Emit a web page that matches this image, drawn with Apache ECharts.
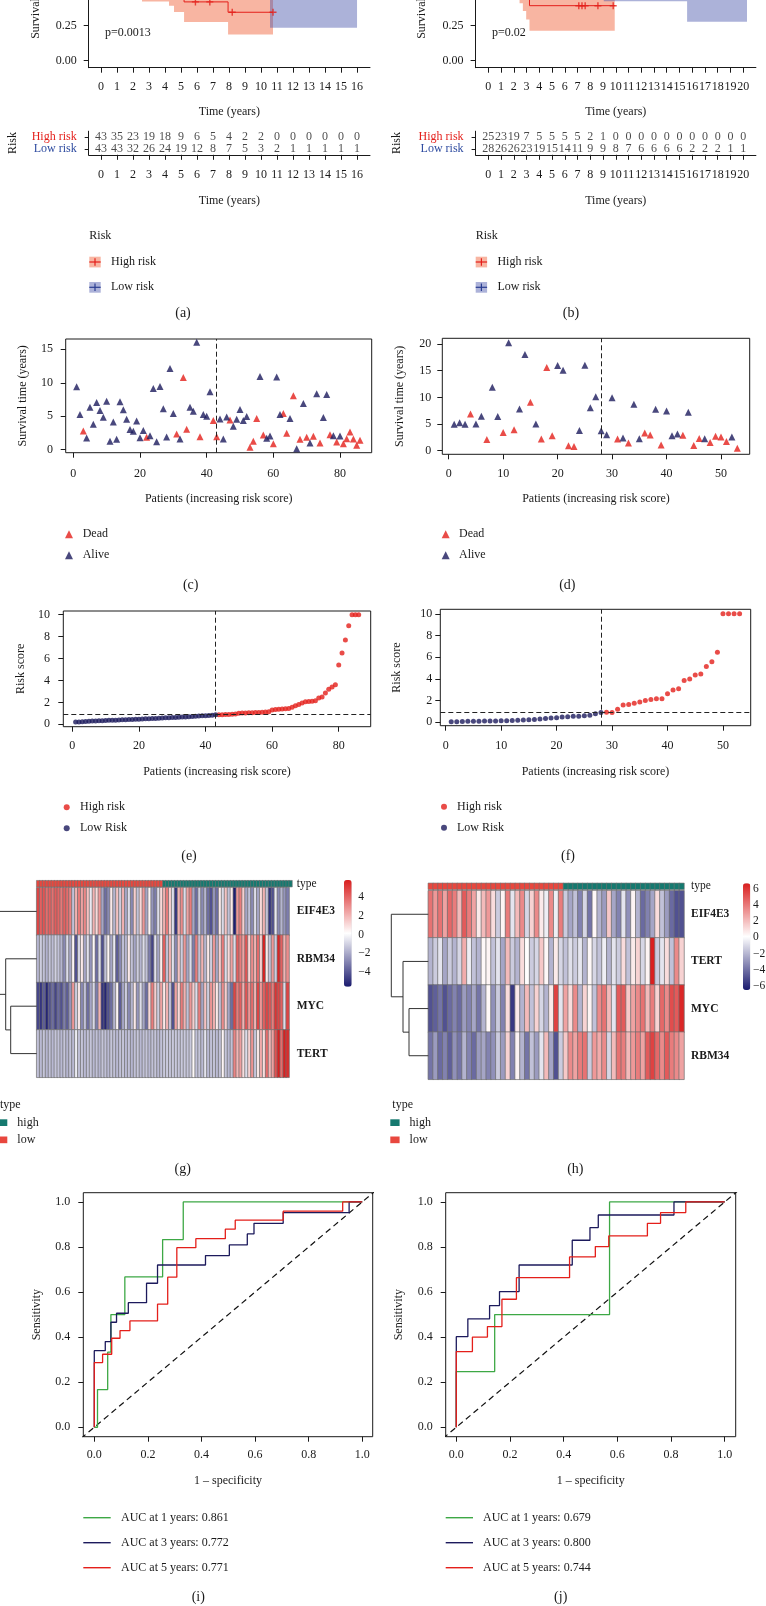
<!DOCTYPE html>
<html>
<head>
<meta charset="utf-8">
<title>Risk model figure</title>
<script src="https://cdn.jsdelivr.net/npm/echarts@6.0.0/dist/echarts.min.js"></script>
<style>
html,body{margin:0;padding:0;background:#ffffff;}
#chart{width:766px;height:1606px;}
</style>
</head>
<body>
<div id="chart"></div>
<script>
// ======================= DATA =======================
// (a) Kaplan-Meier, training cohort
const kmA_ticks = [0,1,2,3,4,5,6,7,8,9,10,11,12,13,14,15,16];
const kmA_highTime  = [0, 0.6, 1.2, 1.8, 2.56, 4.25, 4.56, 5.19, 7.94, 10.75];
const kmA_highSurv  = [1, 0.93, 0.84, 0.75, 0.62, 0.55, 0.49, 0.42, 0.346, 0.346];
const kmA_highLower = [1, 0.82, 0.70, 0.60, 0.422, 0.393, 0.348, 0.276, 0.188, 0.188];
const kmA_highCensTime = [5.9, 6.8, 8.2, 10.75];
const kmA_highCensSurv = [0.42, 0.42, 0.346, 0.346];
const kmA_lowTime  = [0, 1.5, 2.5, 4, 5.5, 7, 9, 10.56, 16];
const kmA_lowSurv  = [1, 0.97, 0.90, 0.84, 0.78, 0.72, 0.68, 0.55, 0.55];
const kmA_lowLower = [1, 0.90, 0.80, 0.72, 0.65, 0.58, 0.52, 0.236, 0.236];
const riskA_high = [43,35,23,19,18,9,6,5,4,2,2,0,0,0,0,0,0];
const riskA_low  = [43,43,32,26,24,19,12,8,7,5,3,2,1,1,1,1,1];
const pA = 'p=0.0013';

// (b) Kaplan-Meier, validation cohort
const kmB_ticks = [0,1,2,3,4,5,6,7,8,9,10,11,12,13,14,15,16,17,18,19,20];
const kmB_highTime  = [0, 0.5, 1.2, 2.0, 2.45, 2.71, 2.97, 3.23, 9.92];
const kmB_highSurv  = [1, 0.95, 0.88, 0.74, 0.64, 0.56, 0.48, 0.393, 0.393];
const kmB_highLower = [1, 0.84, 0.72, 0.55, 0.41, 0.355, 0.295, 0.214, 0.214];
const kmB_highCensTime = [7.1, 7.35, 7.6, 8.6, 9.8];
const kmB_highCensSurv = [0.393, 0.393, 0.393, 0.393, 0.393];
const kmB_lowTime  = [0, 1, 2.5, 4, 5.5, 7, 8.2, 9.06, 15.6, 20.3];
const kmB_lowSurv  = [1, 0.96, 0.90, 0.85, 0.80, 0.76, 0.72, 0.66, 0.55, 0.55];
const kmB_lowLower = [1, 0.88, 0.78, 0.70, 0.62, 0.56, 0.50, 0.425, 0.279, 0.279];
const riskB_high = [25,23,19,7,5,5,5,5,2,1,0,0,0,0,0,0,0,0,0,0,0];
const riskB_low  = [28,26,26,23,19,15,14,11,9,9,8,7,6,6,6,6,2,2,2,1,1];
const pB = 'p=0.02';

const survTicks = [0, 0.25, 0.5, 0.75, 1];

// (c) survival status, training cohort (patients ordered by risk score)
const cSurvTime = [9.4,5.25,2.8,1.75,6.35,3.8,7.05,5.85,4.85,7.25,
  1.25,4.15,1.55,7.15,5.95,4.55,3.0,2.75,4.3,1.8,
  2.85,1.85,2.1,9.15,1.2,9.45,6.1,1.9,12.15,5.4,
  2.35,1.6,10.8,3.05,6.35,5.75,16.05,1.95,5.25,5.0,
  8.65,4.35,1.95,4.6,1.6,4.9,4.45,3.5,4.55,6.0,
  4.35,4.95,0.35,1.25,4.65,10.95,2.2,1.7,2.05,0.9,
  10.85,5.25,5.4,2.45,4.65,8.05,0.15,1.55,6.9,1.85,
  1.0,2.0,8.35,1.0,4.8,8.25,2.25,2.1,1.15,2.05,
  0.9,1.65,2.65,1.6,0.65,1.4];
const cDead = [0,0,1,0,0,0,0,0,0,0,
  0,0,0,0,0,0,0,0,0,0,
  0,1,0,0,0,0,0,0,0,0,
  1,0,1,1,0,0,0,1,0,0,
  0,1,1,0,0,0,1,0,0,0,
  0,0,1,1,1,0,1,0,0,1,
  0,0,1,1,0,1,0,1,0,1,
  0,1,0,1,0,0,1,0,1,0,
  1,1,1,1,1,1];
const cCut = 43;

// (d) survival status, validation cohort
const dSurvTime = [4.95,5.25,4.95,6.9,5.0,6.45,2.1,11.9,6.4,3.4,
  20.25,3.95,7.8,18.05,9.1,5.0,2.2,15.6,2.8,15.95,
  15.1,0.95,0.8,3.8,16.0,8.05,10.1,3.75,3.0,9.95,
  2.2,2.4,1.45,8.7,2.25,3.3,2.95,7.75,1.05,7.45,
  2.8,3.15,2.9,7.2,1.0,2.3,2.25,1.55,2.7,2.55,
  1.75,2.55,0.45];
const dDead = [0,0,0,1,0,0,1,0,0,1,
  0,1,0,0,1,0,1,1,1,0,
  0,1,1,0,0,0,0,0,0,0,
  1,0,1,0,0,1,1,0,1,0,
  0,0,1,0,1,1,0,1,1,1,
  1,0,1];
const dCut = 28;

// (e) risk score, training cohort
const eLowScore = [0.20,0.22,0.24,0.26,0.28,0.30,0.31,0.32,0.33,0.35,0.36,0.37,0.38,0.40,0.41,0.42,0.43,0.44,0.46,0.47,
  0.48,0.50,0.51,0.52,0.53,0.55,0.57,0.59,0.60,0.62,0.63,0.64,0.66,0.67,0.69,0.71,0.73,0.75,0.77,0.79,0.81,0.83,0.86];
const eHighScore = [0.88,0.88,0.89,0.90,0.91,0.93,1.0,1.02,1.04,1.05,1.06,1.07,1.08,1.10,1.12,1.15,1.30,1.35,1.38,1.40,
  1.42,1.43,1.55,1.70,1.80,1.95,2.05,2.07,2.10,2.15,2.40,2.50,2.85,3.20,3.40,3.60,5.40,6.50,7.70,9.00,10,10,10];
const eThreshold = 0.88;

// (f) risk score, validation cohort
const fLowScore = [0.05,0.06,0.08,0.09,0.10,0.10,0.12,0.12,0.13,0.14,0.15,0.17,0.20,0.22,0.23,0.25,0.30,0.35,0.40,0.42,
  0.50,0.52,0.55,0.57,0.60,0.65,0.80,0.90];
const fHighScore = [0.92,0.90,1.20,1.60,1.65,1.75,1.87,2.00,2.10,2.18,2.18,2.64,2.97,3.10,3.85,4.00,4.35,4.45,5.15,5.58,
  6.45,10,10,10,10];
const fThreshold = 0.92;

// (g) heatmap, training cohort (86 samples)
const gGenes = ['EIF4E3','RBM34','MYC','TERT'];
const gType = [0,0,0,0,0,0,0,0,0,0,0,0,0,0,0,0,0,0,0,0,0,0,0,0,0,0,0,0,0,0,0,0,0,0,0,0,0,0,0,0,0,0,0,
  1,1,1,1,1,1,1,1,1,1,1,1,1,1,1,1,1,1,1,1,1,1,1,1,1,1,1,1,1,1,1,1,1,1,1,1,1,1,1,1,1,1,1,1];
const gEIF4E3 = [4.9,4.2,4.5,3.9,4.2,3.8,4.3,4.1,3.6,4.2,3.9,3.4,
  -1.4,2.1,3.5,2.5,3.2,1.7,-0.4,2.1,1.1,2.8,
  -2.1,-3.5,-2.8,0.7,-1.7,1.7,-1.1,2.1,-2.1,-0.7,
  -2.8,1.4,-1.4,1.1,2.8,-2.1,0.4,-2.5,-3.1,-0.7,1.1,
  2.1,3.5,1.4,-0.7,-4.9,2.1,3.1,-0.7,2.5,3.5,
  -2.1,-3.5,-1.1,-2.8,-1.7,-3.5,-4.2,-2.5,-3.5,0.7,
  -0.8,1.7,-1.4,0.7,-5.5,2.8,3.5,1.4,-2.1,-1.4,
  -2.8,-0.7,-2.1,1.1,2.1,-1.4,-4.9,-4.2,-0.4,-2.8,
  -1.7,-2.5,-3.1];
const gRBM34 = [-1.7,-1.1,-1.4,-1.8,-1.3,-1.5,-1.0,-1.4,-1.7,
  -2.8,-0.7,-2.1,0.4,-4.2,-0.8,0.7,-2.1,-0.6,-2.5,
  0.3,-3.5,-0.7,-4.2,-1.4,0.4,-2.1,-0.4,-3.9,-2.8,
  -1.4,-1.7,0.7,-1.4,-2.1,-1.1,-1.7,-0.7,-1.4,-3.1,
  -4.5,-0.6,-2.1,0.6,4.2,-1.4,2.1,-0.6,-2.8,1.7,
  -1.1,2.8,-2.1,-0.7,-3.1,3.5,-1.4,2.1,-1.7,0.7,
  -1.1,2.8,-2.1,1.4,3.5,-0.7,1.1,2.5,-0.7,4.2,
  3.5,2.5,4.5,1.1,3.1,2.1,3.9,1.4,5.8,0.7,
  -1.4,2.8,-1.1,5.7,4.2,2.1,3.1];
const gMYC = [-4.5,-4.9,-3.9,-5.3,-4.2,-3.5,-4.5,-3.6,-4.2,-3.1,-3.9,-2.5,
  2.8,-1.1,0.7,-2.8,-1.4,-3.5,-2.1,-0.8,-3.1,2.1,
  -4.9,-5.3,-4.2,-3.5,-1.7,0.4,-3.9,-2.1,-1.1,-2.8,
  -1.7,0.7,-2.5,-0.7,-2.1,-3.5,1.1,3.5,1.4,-1.1,
  2.5,0.7,2.1,-1.4,-4.2,2.5,1.1,3.5,2.1,-1.4,
  2.8,1.4,-0.7,3.5,-2.1,1.7,-1.1,2.8,2.1,0.7,
  -1.4,3.1,1.4,-2.1,-3.5,4.9,3.5,4.2,2.1,4.5,
  2.8,3.9,2.1,4.9,2.8,4.2,4.9,4.5,3.5,5.3,
  4.9,4.2,-0.7,4.9];
const gTERT = [-1.4,-1.6,-1.3,-1.7,-1.4,-1.6,-1.3,-1.4,-1.6,-1.3,-1.7,-1.4,-1.6,
  -0.3,
  -1.4,-1.3,-1.6,-1.4,-1.3,-1.6,-1.4,-1.7,-1.3,-1.4,-1.6,-1.3,-1.4,-1.6,-1.4,-1.3,-1.6,-1.4,-1.7,-1.4,-1.3,-1.6,-1.4,-1.3,-1.6,-1.4,-1.3,-1.6,-1.4,
  -1.2,-1.2,-1.3,-1.2,-1.2,-1.3,-1.2,-1.2,-1.3,-1.2,
  0.3,
  -1.4,-1.3,-1.6,
  -0.5,
  -1.6,-1.4,-1.3,-1.6,-1.4,
  0.4,
  -1.3,-1.6,-1.4,
  3.3,2.0,2.6,1.0,-0.7,1.3,2.9,-1.3,0.7,2.3,1.0,3.9,2.0,2.6,4.6,5.8,3.9,5.8,5.5];
const gScaleMin = -5.57, gScaleMax = 5.86;
const gScaleTicks = [-4,-2,0,2,4];
const gDendroMerge = [[-3,-4],[-2,1],[-1,2]];
const gDendroHeight = [2.6, 3.1, 4.2];

// (h) heatmap, validation cohort (53 samples)
const hGenes = ['EIF4E3','TERT','MYC','RBM34'];
const hType = [0,0,0,0,0,0,0,0,0,0,0,0,0,0,0,0,0,0,0,0,0,0,0,0,0,0,0,0,
  1,1,1,1,1,1,1,1,1,1,1,1,1,1,1,1,1,1,1,1,1,1,1,1,1];
const hEIF4E3 = [4.2,3.1,4.2,2.8,4.5,3.9,2.1,4.9,3.9,2.8, 0.7,2.1,3.1,1.1,-1.4,0.4,3.9,-0.7,2.1,3.5,
  -1.1,1.4,3.5,0.7,-0.4,3.5,-0.4,3.9,-1.4,-2.5, -1.7,-3.5,-1.1,-3.9,0.3,-2.1,-2.8,1.7,-2.5,-3.5,
  -0.7,-3.1,0.4,-2.1,-4.2,-3.5,-2.5,1.1,-1.7,-2.8, -4.2,-4.9,-4.9];
const hTERT = [-2.1,-1.4,-0.7,-2.5,-1.4,-2.1,-1.1,2.5,-0.4,-1.7, -2.1,0.3,0.4,-1.7,-0.7,-2.5,2.1,-1.4,-2.1,1.1,
  0.1,-1.4,-1.1,1.7,0.3,-2.1,0.7,-1.1,-1.7,-0.8, -1.4,-0.6,-2.1,0.3,-1.1,-1.7,-0.4,-2.1,-0.7,-1.4,
  1.1,-1.7,0.7,1.4,-1.1,0.4,6.6,-1.4,-0.7,1.1, -1.7,3.5,1.4];
const hMYC = [-4.9,-4.5,-3.9,-4.9,-4.2,-3.5,-4.2,-2.8,-3.5,-2.5, -3.9,-2.1,0.3,-3.1,-1.4,-3.5,1.1,-5.6,0.7,-2.1,
  2.1,-1.7,1.4,-1.1,-2.1,0.7,5.6,-0.7,2.8,1.1, 3.5,-2.1,1.4,0.4,-1.7,3.5,4.2,2.1,-0.7,4.9,
  4.9,1.7,2.8,3.5,4.2,2.1,3.9,1.4,4.5,3.5, 5.3,4.9,6.4];
const hRBM34 = [-3.9,-2.8,-4.2,-3.5,-4.5,-3.1,-3.9,-2.1,-3.5,-4.2, -2.8,-2.5,-3.5,-3.1,-1.4,-2.8,1.4,-3.5,0.4,-2.1,
  -3.9,-1.7,-2.8,-0.7,2.1,-2.5,-4.9,-1.4,1.7,3.5, 2.8,3.9,4.2,-1.4,3.1,2.5,3.5,-1.1,2.1,4.2,
  3.9,2.1,3.1,3.9,2.8,4.9,5.6,4.5,3.5,4.9, 3.9,3.5,2.8];
const hScaleMin = -6.49, hScaleMax = 6.66;
const hScaleTicks = [-6,-4,-2,0,2,4,6];
const hDendroMerge = [[-3,-4],[-2,1],[-1,2]];
const hDendroHeight = [1.93, 2.53, 3.7];

// (i) time-dependent ROC, training cohort
const rocTicks = [0, 0.2, 0.4, 0.6, 0.8, 1.0];
const iNames = ['AUC at 1 years: 0.861', 'AUC at 3 years: 0.772', 'AUC at 5 years: 0.771'];
const i1Fpr = [0,0.012,0.012,0.05,0.05,0.062,0.062,0.114,0.114,0.255,0.255,0.332,0.332,1];
const i1Tpr = [0,0,0.167,0.167,0.333,0.333,0.5,0.5,0.667,0.667,0.833,0.833,1,1];
const i3Fpr = [0,0,0.041,0.041,0.062,0.062,0.083,0.083,0.127,0.127,0.195,0.195,0.236,0.236,0.415,0.415,0.504,0.504,0.571,0.571,0.596,0.596,0.705,0.705,0.951,0.951,1];
const i3Tpr = [0,0.34,0.34,0.38,0.38,0.466,0.466,0.506,0.506,0.553,0.553,0.639,0.639,0.72,0.72,0.762,0.762,0.809,0.809,0.858,0.858,0.905,0.905,0.953,0.953,1,1];
const i5Fpr = [0,0,0.031,0.031,0.065,0.065,0.096,0.096,0.133,0.133,0.236,0.236,0.274,0.274,0.308,0.308,0.379,0.379,0.489,0.489,0.526,0.526,0.705,0.705,0.927,0.927,1];
const i5Tpr = [0,0.287,0.287,0.324,0.324,0.395,0.395,0.429,0.429,0.472,0.472,0.546,0.546,0.666,0.666,0.797,0.797,0.837,0.837,0.879,0.879,0.919,0.919,0.959,0.959,1,1];

// (j) time-dependent ROC, validation cohort
const jNames = ['AUC at 1 years: 0.679', 'AUC at 3 years: 0.800', 'AUC at 5 years: 0.744'];
const j1Fpr = [0,0,0.143,0.143,0.571,0.571,1];
const j1Tpr = [0,0.247,0.247,0.5,0.5,1,1];
const j3Fpr = [0,0,0.043,0.043,0.124,0.124,0.161,0.161,0.234,0.234,0.432,0.432,0.498,0.498,0.529,0.529,0.811,0.811,1];
const j3Tpr = [0,0.402,0.402,0.481,0.481,0.54,0.54,0.602,0.602,0.72,0.72,0.83,0.83,0.886,0.886,0.942,0.942,1,1];
const j5Fpr = [0,0,0.06,0.06,0.116,0.116,0.17,0.17,0.224,0.224,0.422,0.422,0.518,0.518,0.568,0.568,0.712,0.712,0.761,0.761,0.855,0.855,1];
const j5Tpr = [0,0.336,0.336,0.4,0.4,0.447,0.447,0.568,0.568,0.664,0.664,0.756,0.756,0.802,0.802,0.849,0.849,0.905,0.905,0.953,0.953,1,1];
const rocChance = [-0.05, 1.05];

// ======================= STYLE =======================
const FONT = "'Liberation Serif', serif";
const C_TEXT = '#1a1a1a';
const C_RED = '#E41F1A';
const C_NAVY = '#1C1A5C';
const C_HIGH_FILL = 'rgba(242,108,70,0.5)';
const C_LOW_FILL = 'rgba(70,85,170,0.45)';
const C_LOW_LINE = '#2A3D91';
const C_LOW_TEXT = '#2E4BA0';
const C_TYPE_LOW = '#E8473E';
const C_TYPE_HIGH = '#15796F';
const C_GREEN = '#3DA845';
const HEAT_COLORS = ['#1A1A6E', '#FFFFFF', '#D91E1E'];

const pair = (xs, ys) => xs.map((x, i) => [x, ys[i]]);
const lbl = (extra) => Object.assign({fontFamily: FONT, fontSize: 12, color: C_TEXT, hideOverlap: false}, extra || {});
const nameStyle = {fontFamily: FONT, fontSize: 12, color: C_TEXT};

const grids = [], xAxes = [], yAxes = [], series = [], visualMaps = [], graphics = [];
function addGrid(g) {
  grids.push(Object.assign({show: false, containLabel: false, outerBoundsMode: 'none'}, g));
  return grids.length - 1;
}
function valAxis(gi, min, max, ticks, opts) {
  const o = opts || {};
  const ax = {
    type: 'value', gridIndex: gi, min: min, max: max,
    axisLine: {show: !!o.line, onZero: false, lineStyle: {color: C_TEXT, width: 1}},
    axisTick: {show: true, length: o.tick || 5, customValues: ticks, lineStyle: {color: C_TEXT, width: 1}},
    axisLabel: lbl({customValues: ticks, margin: o.margin || 13}),
    splitLine: {show: false}
  };
  if (o.fmt) ax.axisLabel.formatter = o.fmt;
  if (o.name) { ax.name = o.name; ax.nameLocation = 'middle'; ax.nameGap = o.gap; ax.nameTextStyle = nameStyle; }
  return ax;
}
function hiddenAxis(gi, type, extra) {
  return Object.assign({type: type, gridIndex: gi, show: false, axisLine: {show: false}, axisTick: {show: false}, axisLabel: {show: false}, splitLine: {show: false}}, extra || {});
}
function txt(x, y, text, style) {
  graphics.push({type: 'text', x: x, y: y, silent: true,
    style: Object.assign({text: text, font: '12px ' + FONT, fill: C_TEXT, align: 'left', verticalAlign: 'middle'}, style || {})});
}
function rect(x, y, w, h, fill) {
  graphics.push({type: 'rect', silent: true, shape: {x: x, y: y, width: w, height: h}, style: {fill: fill}});
}
function seg(x1, y1, x2, y2, stroke, w) {
  graphics.push({type: 'line', silent: true, shape: {x1: x1, y1: y1, x2: x2, y2: y2}, style: {stroke: stroke, lineWidth: w || 1}});
}
const PLUS = 'path://M4,0H6V4H10V6H6V10H4V6H0V4H4Z';

// ---------- KM panel builder ----------
function kmPanel(cfg) {
  const gi = addGrid({left: cfg.left, top: -86.3, width: cfg.width, height: 154});
  xAxes.push(valAxis(gi, cfg.xmin, cfg.xmax, cfg.ticks, {line: true, tick: 5, margin: 13, name: 'Time (years)', gap: 38}));
  yAxes.push(valAxis(gi, -0.05, 1.05, survTicks, {line: true, tick: 5, margin: 12, name: 'Survival probability', gap: cfg.ygap, fmt: v => v.toFixed(2)}));
  const band = (t, lo, col) => ({type: 'line', xAxisIndex: gi, yAxisIndex: gi, data: pair(t, lo), step: 'end', symbol: 'none', silent: true,
    lineStyle: {width: 0, opacity: 0}, areaStyle: {color: col, origin: 'end', opacity: 1}, z: 1});
  series.push(band(cfg.highT, cfg.highL, C_HIGH_FILL));
  series.push(band(cfg.lowT, cfg.lowL, C_LOW_FILL));
  series.push({type: 'line', name: cfg.id + ' low', xAxisIndex: gi, yAxisIndex: gi, data: pair(cfg.lowT, cfg.lowS), step: 'end', symbol: 'none', silent: true, lineStyle: {color: C_LOW_LINE, width: 1}, z: 3});
  series.push({type: 'line', name: cfg.id + ' high', xAxisIndex: gi, yAxisIndex: gi, data: pair(cfg.highT, cfg.highS), step: 'end', symbol: 'none', silent: true, lineStyle: {color: C_RED, width: 1}, z: 3});
  series.push({type: 'scatter', name: cfg.id + ' censor', xAxisIndex: gi, yAxisIndex: gi, data: pair(cfg.censT, cfg.censS), symbol: PLUS, symbolSize: 7, silent: true, itemStyle: {color: C_RED}, z: 4});

  // number-at-risk table
  const ti = addGrid({left: cfg.left, top: 131.2, width: cfg.width, height: 23.6});
  xAxes.push(valAxis(ti, cfg.xmin, cfg.xmax, cfg.ticks, {line: true, tick: 5, margin: 14, name: 'Time (years)', gap: 40}));
  yAxes.push({type: 'category', gridIndex: ti, data: ['Low risk', 'High risk'], name: 'Risk', nameLocation: 'middle', nameGap: cfg.riskGap, nameTextStyle: nameStyle,
    axisLine: {show: true, onZero: false, lineStyle: {color: C_TEXT, width: 1}},
    axisTick: {show: true, length: 4, alignWithLabel: true, interval: 0, lineStyle: {color: C_TEXT}},
    axisLabel: lbl({margin: 12, interval: 0, color: (v) => v === 'High risk' ? C_RED : C_LOW_TEXT}),
    splitLine: {show: false}});
  const row = (vals, cat) => ({type: 'scatter', xAxisIndex: ti, yAxisIndex: ti, silent: true, symbolSize: 1, itemStyle: {color: 'rgba(0,0,0,0)'},
    data: cfg.ticks.map((t, i) => [t, cat, vals[i]]),
    label: {show: true, position: 'inside', formatter: p => String(p.value[2]), fontFamily: FONT, fontSize: 12, color: C_TEXT}});
  series.push(row(cfg.riskHigh, 'High risk'));
  series.push(row(cfg.riskLow, 'Low risk'));

  // p value, legend
  txt(cfg.pX, 33.3, cfg.p);
  txt(cfg.legX, 236, 'Risk');
  rect(cfg.legX, 256.7, 11.4, 10.7, C_HIGH_FILL);
  seg(cfg.legX, 262, cfg.legX + 11.4, 262, C_RED, 1.2);
  seg(cfg.legX + 5.7, 258.3, cfg.legX + 5.7, 265.7, C_RED, 1.2);
  txt(cfg.legX + 21.7, 262, 'High risk');
  rect(cfg.legX, 282, 11.4, 10.7, C_LOW_FILL);
  seg(cfg.legX, 287.3, cfg.legX + 11.4, 287.3, C_LOW_LINE, 1.2);
  seg(cfg.legX + 5.7, 283.6, cfg.legX + 5.7, 291, C_LOW_LINE, 1.2);
  txt(cfg.legX + 21.7, 287.3, 'Low risk');
}

kmPanel({id: 'A', left: 88.7, width: 281.3, xmin: -0.77, xmax: 16.81, ticks: kmA_ticks, ygap: 46.7, riskGap: 70,
  highT: kmA_highTime, highS: kmA_highSurv, highL: kmA_highLower, censT: kmA_highCensTime, censS: kmA_highCensSurv,
  lowT: kmA_lowTime, lowS: kmA_lowSurv, lowL: kmA_lowLower, riskHigh: riskA_high, riskLow: riskA_low,
  p: pA, pX: 105, legX: 89.3});
kmPanel({id: 'B', left: 475.6, width: 280.3, xmin: -1, xmax: 21, ticks: kmB_ticks, ygap: 47.6, riskGap: 72.6,
  highT: kmB_highTime, highS: kmB_highSurv, highL: kmB_highLower, censT: kmB_highCensTime, censS: kmB_highCensSurv,
  lowT: kmB_lowTime, lowS: kmB_lowSurv, lowL: kmB_lowLower, riskHigh: riskB_high, riskLow: riskB_low,
  p: pB, pX: 492, legX: 475.7});

// ---------- box (base R) panel builder ----------
function boxGrid(l, t, w, h) { return addGrid({show: true, left: l, top: t, width: w, height: h, borderColor: C_TEXT, borderWidth: 1, backgroundColor: 'transparent'}); }
const dashed = {type: [5, 3], color: '#222', width: 1};

function statusPanel(cfg) {
  const gi = boxGrid(cfg.l, cfg.t, cfg.w, cfg.h);
  xAxes.push(valAxis(gi, cfg.xmin, cfg.xmax, cfg.xticks, {margin: cfg.xm, name: 'Patients (increasing risk score)', gap: cfg.xg}));
  yAxes.push(valAxis(gi, cfg.ymin, cfg.ymax, cfg.yticks, {margin: cfg.ym, name: 'Survival time (years)', gap: cfg.yg}));
  const dead = [], alive = [];
  cfg.time.forEach((v, i) => (cfg.dead[i] ? dead : alive).push([i + 1, v]));
  series.push({type: 'scatter', name: 'Dead', xAxisIndex: gi, yAxisIndex: gi, data: dead, symbol: 'triangle', symbolSize: 7, itemStyle: {color: C_RED}, silent: true, z: 3});
  series.push({type: 'scatter', name: 'Alive', xAxisIndex: gi, yAxisIndex: gi, data: alive, symbol: 'triangle', symbolSize: 7, itemStyle: {color: C_NAVY}, silent: true, z: 3,
    markLine: {silent: true, symbol: 'none', label: {show: false}, lineStyle: dashed, data: [{xAxis: cfg.cut}]}});
}
statusPanel({l: 65.7, t: 339, w: 306, h: 113.7, xmin: -2.28, xmax: 89.5, ymin: -0.45, ymax: 16.54,
  xticks: [0,20,40,60,80], yticks: [0,5,10,15], xm: 15, ym: 12.7, xg: 40, yg: 37, time: cSurvTime, dead: cDead, cut: cCut});
statusPanel({l: 442.3, t: 338.3, w: 307.4, h: 116, xmin: -1.18, xmax: 55.27, ymin: -0.67, ymax: 21.07,
  xticks: [0,10,20,30,40,50], yticks: [0,5,10,15,20], xm: 13.4, ym: 11, xg: 38.4, yg: 36.6, time: dSurvTime, dead: dDead, cut: dCut});

function riskPanel(cfg) {
  const gi = boxGrid(cfg.l, cfg.t, cfg.w, cfg.h);
  xAxes.push(valAxis(gi, cfg.xmin, cfg.xmax, cfg.xticks, {margin: cfg.xm, name: 'Patients (increasing risk score)', gap: cfg.xg}));
  yAxes.push(valAxis(gi, cfg.ymin, cfg.ymax, [0,2,4,6,8,10], {margin: cfg.ym, name: 'Risk score', gap: cfg.yg}));
  const nLow = cfg.low.length;
  series.push({type: 'scatter', name: 'High risk', xAxisIndex: gi, yAxisIndex: gi, data: cfg.high.map((v, i) => [nLow + i + 1, v]), symbol: 'circle', symbolSize: 5, itemStyle: {color: C_RED}, silent: true, z: 3});
  series.push({type: 'scatter', name: 'Low Risk', xAxisIndex: gi, yAxisIndex: gi, data: cfg.low.map((v, i) => [i + 1, v]), symbol: 'circle', symbolSize: 5, itemStyle: {color: C_NAVY}, silent: true, z: 3,
    markLine: {silent: true, symbol: 'none', label: {show: false}, lineStyle: dashed, data: [{xAxis: nLow}, {yAxis: cfg.thr}]}});
}
riskPanel({l: 63.3, t: 611, w: 307.4, h: 115.7, xmin: -2.7, xmax: 89.6, ymin: -0.22, ymax: 10.34,
  xticks: [0,20,40,60,80], xm: 13.3, ym: 13.3, xg: 39, yg: 36.6, low: eLowScore, high: eHighScore, thr: eThreshold});
riskPanel({l: 440.3, t: 609.3, w: 310.4, h: 116.4, xmin: -0.97, xmax: 55.0, ymin: -0.31, ymax: 10.41,
  xticks: [0,10,20,30,40,50], xm: 14.3, ym: 8, xg: 40, yg: 37.3, low: fLowScore, high: fHighScore, thr: fThreshold});

// ---------- heatmap panel builder ----------
const typeSeriesIdx = [];
function heatPanel(cfg) {
  const samples = cfg.type.map((_, i) => 'S' + (i + 1));
  // annotation bar
  const ti = addGrid({left: cfg.l, top: cfg.typeTop, width: cfg.w, height: 6});
  xAxes.push(hiddenAxis(ti, 'category', {data: samples}));
  yAxes.push({type: 'category', gridIndex: ti, data: ['type'], position: 'right', axisLine: {show: false}, axisTick: {show: false},
    axisLabel: lbl({margin: cfg.labM, fontSize: 11.5, interval: 0}), splitLine: {show: false}});
  typeSeriesIdx.push(series.length);
  series.push({type: 'heatmap', xAxisIndex: ti, yAxisIndex: ti, data: cfg.type.map((v, i) => [i, 0, v]), silent: true,
    itemStyle: {borderColor: '#707070', borderWidth: 0.6}, emphasis: {disabled: true}, progressive: 0});
  // main heatmap
  const hi = addGrid({left: cfg.l, top: cfg.top, width: cfg.w, height: cfg.h});
  xAxes.push(hiddenAxis(hi, 'category', {data: samples}));
  yAxes.push({type: 'category', gridIndex: hi, data: cfg.genes, inverse: true, position: 'right', axisLine: {show: false}, axisTick: {show: false},
    axisLabel: lbl({margin: cfg.labM, fontSize: 11.5, fontWeight: 'bold', interval: 0}), splitLine: {show: false}});
  const data = [];
  cfg.rows.forEach((row, r) => row.forEach((v, c) => data.push([c, r, v])));
  const heatIdx = series.length;
  series.push({type: 'heatmap', xAxisIndex: hi, yAxisIndex: hi, data: data, silent: true,
    itemStyle: {borderColor: '#6e6e6e', borderWidth: 0.7}, emphasis: {disabled: true}, progressive: 0});
  visualMaps.push({type: 'continuous', seriesIndex: heatIdx, dimension: 2, min: cfg.smin, max: cfg.smax,
    inRange: {color: HEAT_COLORS}, show: true, calculable: false, hoverLink: false, realtime: false,
    left: cfg.cbL, top: cfg.cbT, itemWidth: cfg.cbW, itemHeight: cfg.cbH, padding: 0, text: null, showLabel: false});
  // dendrogram
  const di = addGrid({left: cfg.dL, top: cfg.top, width: cfg.dW, height: cfg.h});
  xAxes.push(hiddenAxis(di, 'value', {min: 0, max: cfg.dW / 10, inverse: true}));
  yAxes.push(hiddenAxis(di, 'value', {min: -0.5, max: cfg.genes.length - 0.5, inverse: true}));
  const pos = [], hts = [];
  cfg.merge.forEach((m, k) => {
    const kids = m.map(c => c < 0 ? {p: -c - 1, h: 0} : {p: pos[c - 1], h: hts[c - 1]});
    const h = cfg.height[k];
    series.push({type: 'line', xAxisIndex: di, yAxisIndex: di, silent: true, symbol: 'none', clip: true,
      data: [[kids[0].h, kids[0].p], [h, kids[0].p], [h, kids[1].p], [kids[1].h, kids[1].p]],
      lineStyle: {color: '#333', width: 1}});
    pos.push((kids[0].p + kids[1].p) / 2); hts.push(h);
  });
  // colour key labels
  const ki = addGrid({left: cfg.cbL, top: cfg.cbT, width: cfg.cbW, height: cfg.cbH});
  xAxes.push(hiddenAxis(ki, 'value', {min: 0, max: 1}));
  yAxes.push({type: 'value', gridIndex: ki, min: cfg.smin, max: cfg.smax, position: 'right',
    axisLine: {show: false}, axisTick: {show: false, customValues: cfg.sticks}, splitLine: {show: false},
    axisLabel: lbl({customValues: cfg.sticks, margin: cfg.keyM, fontSize: 11.5, formatter: v => String(v).replace('-', '\u2212')})});
  // type legend
  txt(cfg.legX + 1, 1105, 'type');
  rect(cfg.legX - 1, 1119.3, 9.3, 6.7, C_TYPE_HIGH);
  txt(cfg.legX + 18.3, 1122.7, 'high');
  rect(cfg.legX - 1, 1136.5, 9.3, 6.7, C_TYPE_LOW);
  txt(cfg.legX + 18.3, 1139.8, 'low');
}
heatPanel({type: gType, genes: gGenes, rows: [gEIF4E3, gRBM34, gMYC, gTERT], l: 36.7, w: 255.3, typeTop: 880.7, top: 887.7, h: 189.6,
  labM: 4.7, smin: gScaleMin, smax: gScaleMax, sticks: gScaleTicks, cbL: 344, cbT: 880, cbW: 7.7, cbH: 106.7, keyM: 6.6,
  dL: 0, dW: 36.7, merge: gDendroMerge, height: gDendroHeight, legX: -1});
heatPanel({type: hType, genes: hGenes, rows: [hEIF4E3, hTERT, hMYC, hRBM34], l: 428.3, w: 255.7, typeTop: 883.3, top: 890.7, h: 188.6,
  labM: 7, smin: hScaleMin, smax: hScaleMax, sticks: hScaleTicks, cbL: 743, cbT: 883.3, cbW: 7.3, cbH: 106.7, keyM: 2.7,
  dL: 383, dW: 45.3, merge: hDendroMerge, height: hDendroHeight, legX: 391.3});
visualMaps.push({type: 'piecewise', show: false, seriesIndex: typeSeriesIdx, dimension: 2,
  pieces: [{value: 0, color: C_TYPE_LOW}, {value: 1, color: C_TYPE_HIGH}]});

// ---------- ROC panel builder ----------
function rocPanel(cfg) {
  const gi = boxGrid(cfg.l, 1192.7, cfg.w, 244);
  xAxes.push(valAxis(gi, cfg.xmin, cfg.xmax, rocTicks, {margin: 12.6, name: '1 \u2013 specificity', gap: 38, fmt: v => v.toFixed(1)}));
  yAxes.push(valAxis(gi, -0.042, 1.041, rocTicks, {margin: 13, name: 'Sensitivity', gap: cfg.yg, fmt: v => v.toFixed(1)}));
  series.push({type: 'line', xAxisIndex: gi, yAxisIndex: gi, data: [[rocChance[0], rocChance[0]], [rocChance[1], rocChance[1]]], symbol: 'none', silent: true,
    lineStyle: {color: '#111', width: 1.2, type: [6, 4]}, z: 2});
  const cols = [C_GREEN, C_NAVY, C_RED];
  cfg.curves.forEach((c, k) => series.push({type: 'line', name: cfg.names[k], xAxisIndex: gi, yAxisIndex: gi, data: pair(c[0], c[1]),
    symbol: 'none', silent: true, lineStyle: {color: cols[k], width: 1.3}, itemStyle: {color: cols[k]}, z: 3 + k}));
}
rocPanel({l: 83.3, w: 289.4, xmin: -0.041, xmax: 1.039, yg: 40.6, names: iNames,
  curves: [[i1Fpr, i1Tpr], [i3Fpr, i3Tpr], [i5Fpr, i5Tpr]]});
rocPanel({l: 445.7, w: 290, xmin: -0.0395, xmax: 1.041, yg: 40.7, names: jNames,
  curves: [[j1Fpr, j1Tpr], [j3Fpr, j3Tpr], [j5Fpr, j5Tpr]]});

// ---------- legends ----------
const legTxt = (pad) => ({fontFamily: FONT, fontSize: 12, color: C_TEXT, padding: [0, 0, 0, pad]});
const legends = [
  {data: ['Dead', 'Alive'], orient: 'vertical', left: 65, top: 528.3, itemWidth: 8, itemHeight: 8, itemGap: 9, padding: 0, selectedMode: false, textStyle: legTxt(4.7)},
  {data: ['Dead', 'Alive'], orient: 'vertical', left: 441.7, top: 528.3, itemWidth: 8, itemHeight: 8, itemGap: 9, padding: 0, selectedMode: false, textStyle: legTxt(4.3)},
  {data: ['High risk', 'Low Risk'], orient: 'vertical', left: 63.7, top: 801.3, itemWidth: 6, itemHeight: 6, itemGap: 9, padding: 0, selectedMode: false, textStyle: legTxt(5.3)},
  {data: ['High risk', 'Low Risk'], orient: 'vertical', left: 441, top: 800.7, itemWidth: 6, itemHeight: 6, itemGap: 9, padding: 0, selectedMode: false, textStyle: legTxt(5)},
  {data: iNames, orient: 'vertical', left: 83.3, top: 1511.7, icon: 'rect', itemWidth: 27.4, itemHeight: 1.4, itemGap: 13, padding: 0, selectedMode: false, textStyle: legTxt(5.3)},
  {data: jNames, orient: 'vertical', left: 445.7, top: 1511.7, icon: 'rect', itemWidth: 27.3, itemHeight: 1.4, itemGap: 13, padding: 0, selectedMode: false, textStyle: legTxt(5)}
];

// ---------- captions ----------
const captions = [['(a)', 183, 313], ['(b)', 571, 313], ['(c)', 190.7, 585], ['(d)', 567.3, 585], ['(e)', 189, 856.7],
  ['(f)', 568, 856.7], ['(g)', 182.7, 1169.3], ['(h)', 575.3, 1169.3], ['(i)', 198.3, 1597.3], ['(j)', 560.7, 1597.3]];
captions.forEach(c => txt(c[1], c[2], c[0], {font: '14px ' + FONT, align: 'center'}));

// ======================= RENDER =======================
const chart = echarts.init(document.getElementById('chart'), null, {renderer: 'canvas', width: 766, height: 1606});
chart.setOption({
  animation: false,
  backgroundColor: '#ffffff',
  textStyle: {fontFamily: FONT},
  grid: grids, xAxis: xAxes, yAxis: yAxes,
  visualMap: visualMaps,
  legend: legends,
  series: series,
  graphic: {elements: graphics}
});
</script>
</body>
</html>
